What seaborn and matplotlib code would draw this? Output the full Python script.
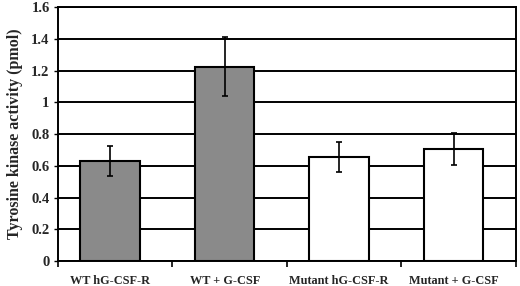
import pandas as pd
import seaborn as sns
import numpy as np
import matplotlib.pyplot as plt
from matplotlib.ticker import FixedLocator

groups = ["WT hG-CSF-R", "WT + G-CSF", "Mutant hG-CSF-R", "Mutant + G-CSF"]
activity = [0.63, 1.225, 0.655, 0.705]
err = [0.095, 0.185, 0.095, 0.103]
colors = ["#8a8a8a", "#8a8a8a", "#ffffff", "#ffffff"]

df = pd.DataFrame({"group": groups, "activity": activity})

sns.set_theme(style="white")
plt.rcParams["font.family"] = ["Liberation Serif", "DejaVu Serif"]
plt.rcParams["font.weight"] = "bold"

fig = plt.figure(figsize=(5.2, 2.86), dpi=100)
ax = fig.add_axes([0.1115, 0.0874, 0.8805, 0.888])

sns.barplot(data=df, x="group", y="activity", hue="group", palette=colors,
            legend=False, errorbar=None, width=0.52, edgecolor="black",
            linewidth=1.5, ax=ax, zorder=3)
ax.errorbar(np.arange(len(groups)), activity, yerr=err, fmt="none",
            ecolor="black", elinewidth=1.2, capsize=2.5, capthick=1.2, zorder=4)

# bars sit slightly left of the category centres in the original
shift = 0.044
ax.set_xlim(-0.5 + shift, 3.5 + shift)
ax.set_ylim(0, 1.6)
ax.set_yticks(np.arange(0, 1.61, 0.2))
ax.set_yticklabels(["0", "0.2", "0.4", "0.6", "0.8", "1", "1.2", "1.4", "1.6"])
ax.yaxis.grid(True, color="black", linewidth=1.4)
ax.set_axisbelow(True)

ax.set_xlabel("")
ax.set_ylabel("Tyrosine kinase activity (pmol)", fontsize=11.5, fontweight="bold",
              labelpad=6)
ax.tick_params(axis="y", labelsize=10.5, length=3, width=1, direction="out",
               left=True, color="black", pad=3)
ax.tick_params(axis="x", which="major", labelsize=8.8, length=0, pad=10)
ax.xaxis.set_minor_locator(FixedLocator(np.arange(5) - 0.5 + shift))
ax.tick_params(axis="x", which="minor", length=4, width=1.2, direction="out",
               bottom=True, color="black")
for lab in ax.get_xticklabels() + ax.get_yticklabels():
    lab.set_fontweight("bold")

for s in ax.spines.values():
    s.set_color("black")
    s.set_linewidth(1.4)

fig.savefig("out.png", dpi=100)
